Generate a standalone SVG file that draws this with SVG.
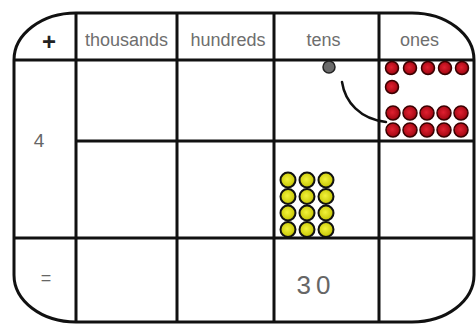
<svg xmlns="http://www.w3.org/2000/svg" width="476" height="326" viewBox="0 0 476 326">
  <style>
    .grid { fill: none; stroke: #111; stroke-width: 3; }
    .hdr { font-family: "Liberation Sans", Arial, sans-serif; font-size: 18px; fill: #6e6e6e; text-anchor: middle; }
    .num { font-family: "Liberation Sans", Arial, sans-serif; fill: #666; text-anchor: middle; }
    .red { fill: url(#redG); stroke: #3a0000; stroke-width: 1.5; }
    .yel { fill: url(#yelG); stroke: #111; stroke-width: 2; }
    .conn { fill: none; stroke: #111; stroke-width: 2.5; stroke-linecap: round; }
  </style>
  <defs>
    <radialGradient id="redG" cx="0.45" cy="0.45" r="0.6">
      <stop offset="0" stop-color="#e02030"/>
      <stop offset="0.7" stop-color="#b00c18"/>
      <stop offset="1" stop-color="#6a0008"/>
    </radialGradient>
    <radialGradient id="yelG" cx="0.45" cy="0.45" r="0.6">
      <stop offset="0" stop-color="#f2f23a"/>
      <stop offset="0.7" stop-color="#cfcf10"/>
      <stop offset="1" stop-color="#8a8a00"/>
    </radialGradient>
  </defs>
  <rect width="476" height="326" fill="#fff"/>

  <g id="grid">
    <rect class="grid" x="14" y="13" width="460" height="309" rx="62" ry="47"/>
    <line class="grid" x1="14" y1="60" x2="474" y2="60"/>
    <line class="grid" x1="76" y1="141" x2="474" y2="141"/>
    <line class="grid" x1="14" y1="238" x2="474" y2="238"/>
    <line class="grid" x1="76" y1="13" x2="76" y2="322"/>
    <line class="grid" x1="177" y1="13" x2="177" y2="322"/>
    <line class="grid" x1="274" y1="13" x2="274" y2="322"/>
    <line class="grid" x1="379" y1="13" x2="379" y2="322"/>
  </g>

  <g id="header">
    <text x="49" y="50" font-family="'Liberation Sans', Arial, sans-serif" font-size="24" font-weight="bold" fill="#222" text-anchor="middle">+</text>
    <text class="hdr" x="126.5" y="46">thousands</text>
    <text class="hdr" x="228" y="46">hundreds</text>
    <text class="hdr" x="323.5" y="46">tens</text>
    <text class="hdr" x="419.5" y="46">ones</text>
  </g>

  <g id="row-4">
    <text class="num" x="39" y="147" font-size="19" fill="#555">4</text>
  </g>

  <g id="row-equals">
    <text class="num" x="46" y="284" font-size="18" fill="#999">=</text>
    <text class="num" x="316" y="294" font-size="26" letter-spacing="5" fill="#777">30</text>
  </g>

  <g id="tens-bead">
    <circle cx="329" cy="67" r="6" fill="#6a6a6a" stroke="#222" stroke-width="1.5"/>
  </g>

  <g id="ones-beads-top">
    <circle class="red" cx="392" cy="68" r="6.5"/>
    <circle class="red" cx="410" cy="68" r="6.5"/>
    <circle class="red" cx="428" cy="68" r="6.5"/>
    <circle class="red" cx="445" cy="68" r="6.5"/>
    <circle class="red" cx="462" cy="68" r="6.5"/>
    <circle class="red" cx="392" cy="87" r="6.5"/>
  </g>

  <g id="ones-beads-ten">
    <circle class="red" cx="393" cy="113" r="7"/>
    <circle class="red" cx="410" cy="113" r="7"/>
    <circle class="red" cx="427" cy="113" r="7"/>
    <circle class="red" cx="444" cy="113" r="7"/>
    <circle class="red" cx="461" cy="113" r="7"/>
    <circle class="red" cx="393" cy="130" r="7"/>
    <circle class="red" cx="410" cy="130" r="7"/>
    <circle class="red" cx="427" cy="130" r="7"/>
    <circle class="red" cx="444" cy="130" r="7"/>
    <circle class="red" cx="461" cy="130" r="7"/>
  </g>

  <g id="tens-beads">
    <circle class="yel" cx="288" cy="180" r="7.5"/>
    <circle class="yel" cx="307" cy="180" r="7.5"/>
    <circle class="yel" cx="326" cy="180" r="7.5"/>
    <circle class="yel" cx="288" cy="196.5" r="7.5"/>
    <circle class="yel" cx="307" cy="196.5" r="7.5"/>
    <circle class="yel" cx="326" cy="196.5" r="7.5"/>
    <circle class="yel" cx="288" cy="213" r="7.5"/>
    <circle class="yel" cx="307" cy="213" r="7.5"/>
    <circle class="yel" cx="326" cy="213" r="7.5"/>
    <circle class="yel" cx="288" cy="229.5" r="7.5"/>
    <circle class="yel" cx="307" cy="229.5" r="7.5"/>
    <circle class="yel" cx="326" cy="229.5" r="7.5"/>
  </g>

  <g id="connectors">
    <path class="conn" d="M342,82 C345,102 360,119 386,122"/>
  </g>
</svg>
